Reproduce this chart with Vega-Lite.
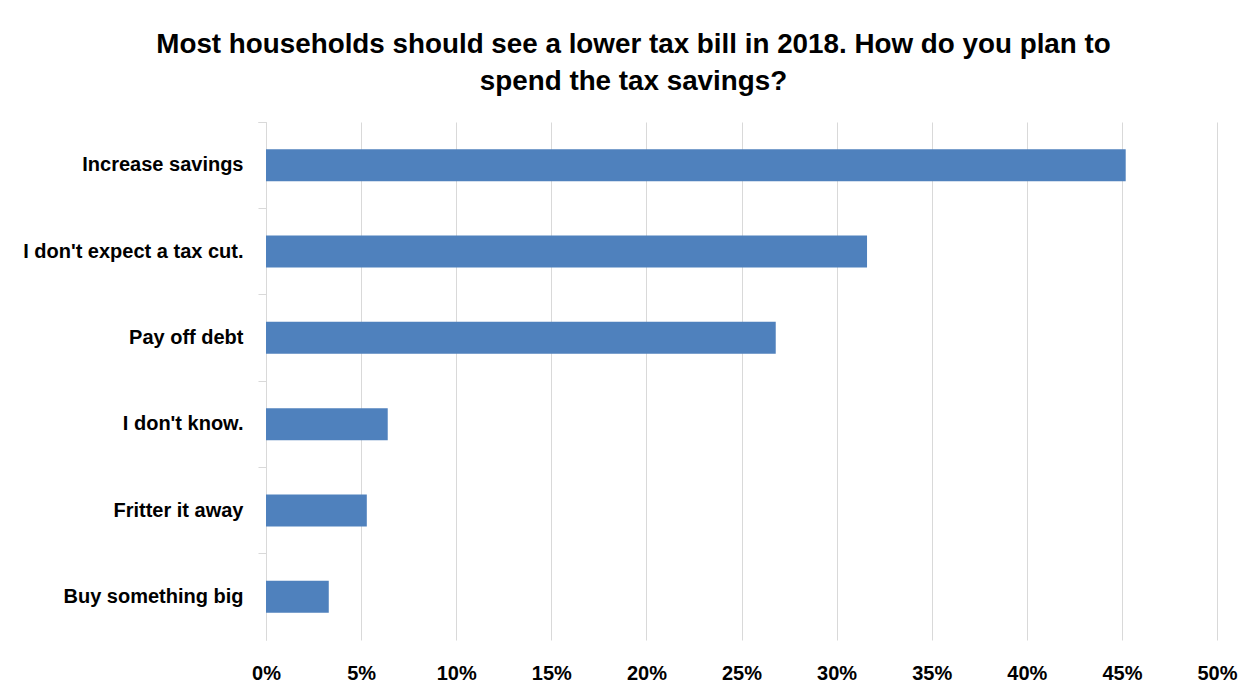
{
  "$schema": "https://vega.github.io/schema/vega-lite/v6.json",
  "width": 951,
  "height": 518,
  "autosize": "none",
  "padding": {"left": 266, "top": 122, "right": 35, "bottom": 52},
  "background": "white",
  "title": {
    "text": ["Most households should see a lower tax bill in 2018. How do you plan to", "spend the tax savings?"],
    "font": "Liberation Sans, Arial",
    "fontSize": 27.8,
    "fontWeight": "bold",
    "color": "black",
    "anchor": "middle",
    "frame": "group",
    "dx": -108,
    "offset": 16,
    "lineHeight": 37
  },
  "data": {
    "values": [
      {"answer": "Increase savings", "share": 45.2},
      {"answer": "I don't expect a tax cut.", "share": 31.6},
      {"answer": "Pay off debt", "share": 26.8},
      {"answer": "I don't know.", "share": 6.4},
      {"answer": "Fritter it away", "share": 5.3},
      {"answer": "Buy something big", "share": 3.3}
    ]
  },
  "mark": {"type": "bar", "color": "#4F81BD", "height": {"band": 0.37}},
  "encoding": {
    "y": {
      "field": "answer",
      "type": "nominal",
      "sort": null,
      "scale": {"paddingInner": 0, "paddingOuter": 0},
      "axis": {
        "title": null,
        "domain": true,
        "domainColor": "#d9d9d9",
        "ticks": true,
        "tickColor": "#d9d9d9",
        "tickSize": 8,
        "bandPosition": 0,
        "tickExtra": true,
        "labelPadding": 15,
        "labelFont": "Liberation Sans, Arial",
        "labelFontSize": 20,
        "labelFontWeight": "bold",
        "labelColor": "black",
        "labelLimit": 400,
        "grid": false
      }
    },
    "x": {
      "field": "share",
      "type": "quantitative",
      "scale": {"domain": [0, 50], "nice": false},
      "axis": {
        "title": null,
        "values": [0, 5, 10, 15, 20, 25, 30, 35, 40, 45, 50],
        "labelExpr": "datum.value + '%'",
        "domain": false,
        "ticks": false,
        "tickSize": 0,
        "grid": true,
        "gridColor": "#d9d9d9",
        "gridWidth": 1,
        "labelPadding": 23,
        "labelFont": "Liberation Sans, Arial",
        "labelFontSize": 20,
        "labelFontWeight": "bold",
        "labelColor": "black",
        "labelFlush": false
      }
    }
  },
  "config": {"view": {"stroke": null}}
}
